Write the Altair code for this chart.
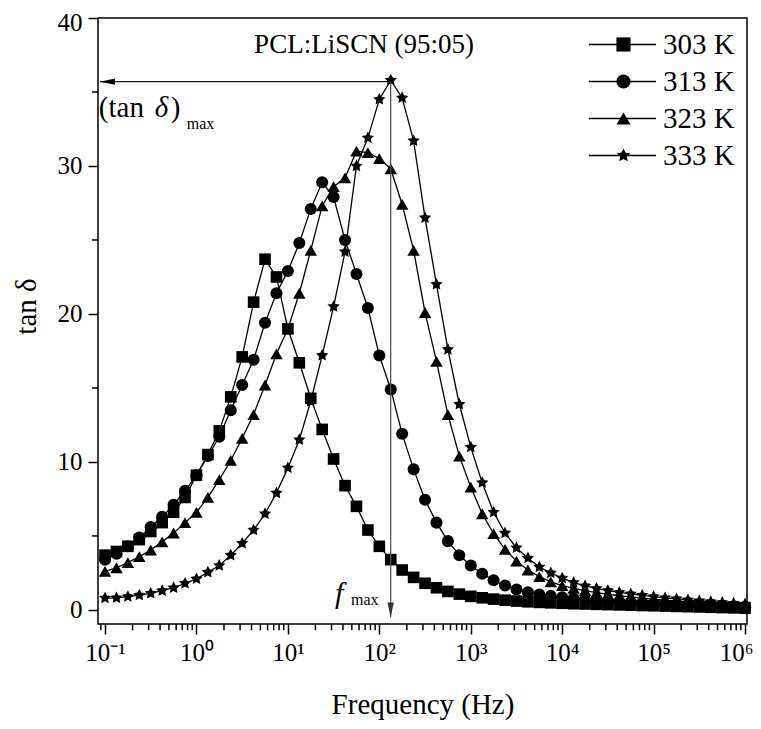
import altair as alt
import pandas as pd

# ---------------- data ----------------
FREQ_HZ = [0.1, 0.1334, 0.1778, 0.2371, 0.3162, 0.4217, 0.5623, 0.7499,
           1, 1.334, 1.778, 2.371, 3.162, 4.217, 5.623, 7.499,
           10, 13.34, 17.78, 23.71, 31.62, 42.17, 56.23, 74.99,
           100, 133.4, 177.8, 237.1, 316.2, 421.7, 562.3, 749.9,
           1000, 1334, 1778, 2371, 3162, 4217, 5623, 7499,
           10000, 13340, 17780, 23710, 31620, 42170, 56230, 74990,
           100000, 133400, 177800, 237100, 316200, 421700, 562300, 749900,
           1000000]

TEMPS = ["303 K", "313 K", "323 K", "333 K"]

TAN_303 = [3.7, 3.95, 4.3, 4.75, 5.3, 5.9, 6.6, 7.6,
           9.1, 10.5, 12.1, 14.4, 17.1, 20.8, 23.7, 22.5,
           19.0, 16.7, 14.3, 12.2, 10.2, 8.4, 7.0, 5.4,
           4.3, 3.4, 2.7, 2.2, 1.8, 1.5, 1.25, 1.07,
           0.92, 0.82, 0.73, 0.66, 0.6, 0.55, 0.51, 0.48,
           0.45, 0.42, 0.4, 0.38, 0.36, 0.34, 0.32, 0.3,
           0.28, 0.26, 0.24, 0.22, 0.2, 0.18, 0.16, 0.14,
           0.12]

TAN_313 = [3.4, 3.8, 4.3, 4.9, 5.6, 6.3, 7.1, 8.05,
           9.1, 10.4, 11.7, 13.5, 15.2, 16.9, 19.4, 21.4,
           22.9, 24.8, 27.1, 28.9, 27.9, 25.0, 22.7, 20.4,
           17.2, 14.9, 11.9, 9.5, 7.45, 5.9, 4.65, 3.7,
           3.0, 2.45, 2.0, 1.65, 1.38, 1.2, 1.05, 0.95,
           0.86, 0.78, 0.71, 0.65, 0.6, 0.55, 0.5, 0.46,
           0.42, 0.39, 0.36, 0.33, 0.3, 0.27, 0.24, 0.21,
           0.18]

TAN_323 = [2.6, 2.85, 3.2, 3.6, 4.05, 4.6, 5.2, 5.9,
           6.6, 7.6, 8.8, 10.1, 11.6, 13.2, 15.2, 17.3,
           19.0, 21.4, 24.3, 27.3, 28.6, 29.2, 31.0, 30.9,
           30.5, 29.8, 27.4, 24.3, 20.1, 16.8, 13.2, 10.4,
           8.3, 6.5, 5.15, 4.1, 3.3, 2.7, 2.25, 1.9,
           1.65, 1.45, 1.3, 1.17, 1.06, 0.96, 0.88, 0.8,
           0.73, 0.66, 0.6, 0.54, 0.48, 0.43, 0.38, 0.34,
           0.3]

TAN_333 = [0.8, 0.82, 0.9, 1.0, 1.12, 1.3, 1.5, 1.8,
           2.1, 2.55, 3.0, 3.7, 4.5, 5.4, 6.5, 7.9,
           9.6, 11.5, 14.1, 17.2, 20.5, 24.2, 30.0, 31.9,
           34.5, 35.8, 34.6, 31.7, 26.5, 22.0, 17.6, 13.9,
           11.0, 8.6, 6.6, 5.2, 4.2, 3.5, 2.9, 2.5,
           2.15, 1.85, 1.62, 1.45, 1.3, 1.18, 1.08, 0.99,
           0.9, 0.82, 0.75, 0.68, 0.62, 0.56, 0.5, 0.45,
           0.4]

SERIES = [TAN_303, TAN_313, TAN_323, TAN_333]

# annotation values (data units)
FMAX_HZ = 133.0
TAN_MAX = 35.7
ARROW_LEFT_END_HZ = 0.0881
ARROW_LEFT_HEAD_HZ = 0.1065
ARROW_DOWN_END = -0.5
ARROW_DOWN_HEAD = 0.0
TITLE_TEXT = "PCL:LiSCN (95:05)"
TITLE_POS = (68.0, 37.66)
TANMAX_POS = (0.0855, 33.3)
FMAX_POS = (32.8, 0.45)

X_DOMAIN = [0.0838, 1.05e6]
Y_DOMAIN = [-0.95, 40]
X_MAJOR = [0.1, 1, 10, 100, 1000, 10000, 100000, 1000000]
X_EXPONENTS = ["\u207b\u00b9", "\u2070", "\u00b9", "\u00b2", "\u00b3", "\u2074", "\u2075", "\u2076"]
Y_MAJOR = [0, 10, 20, 30, 40]
Y_MINOR = [5, 15, 25, 35]
X_MINOR = [0.09] + [m * 10.0 ** k for k in range(-1, 6) for m in range(2, 10)]

STAR = ("M0,-1L0.294,-0.405L0.951,-0.309L0.476,0.155L0.588,0.809L0,0.5"
        "L-0.588,0.809L-0.476,0.155L-0.951,-0.309L-0.294,-0.405Z")
SHAPES = ["square", "circle", "triangle-up", STAR]
SIZES = [135, 165, 215, 560]
FONT = "Liberation Serif"

# ---------------- tables ----------------
rows = []
for t, vals in zip(TEMPS, SERIES):
    for f, v in zip(FREQ_HZ, vals):
        rows.append({"f": f, "v": v, "temp": t, "series": t})
df = pd.DataFrame(rows)

LOG_EXPR = "round(log(datum.value)/LN10)"
label_parts = " : ".join(
    f"{LOG_EXPR} == {e} ? '10{s}'" for e, s in zip(range(-1, 7), X_EXPONENTS)
)
x_label_expr = label_parts + " : ''"
LAST_TEST = "datum.value >= 999999"
TOP_TEST = "datum.value >= 40"

XSCALE = alt.Scale(type="log", domain=X_DOMAIN, nice=False)
YSCALE = alt.Scale(domain=Y_DOMAIN, nice=False, zero=False)

X_AXIS = alt.Axis(
    values=X_MAJOR, labelExpr=x_label_expr, labelOverlap=False, labelFlush=False,
    labelAlign={"condition": {"test": LAST_TEST, "value": "right"}, "value": "center"},
    labelOffset={"condition": {"test": LAST_TEST, "value": 8}, "value": 0},
    tickSize=10, tickColor="black", tickWidth=1.5, domain=False, grid=False,
    labelFont=FONT, labelFontSize=25, labelColor="black", labelPadding=6,
    title="Frequency (Hz)", titleFont=FONT, titleFontSize=29, titleFontWeight="normal",
    titleColor="black", titlePadding=25,
)
Y_AXIS = alt.Axis(
    values=Y_MAJOR, labelOverlap=False, labelFlush=False,
    labelOffset={"condition": {"test": TOP_TEST, "value": 4}, "value": 0},
    tickSize=10, tickColor="black", tickWidth=1.5, domain=False, grid=False,
    labelFont=FONT, labelFontSize=25, labelColor="black", labelPadding=6,
    title="tan \u03b4", titleFont=FONT, titleFontSize=29, titleFontWeight="normal",
    titleColor="black", titlePadding=16, titleY=288,
)


def X(field):
    return alt.X(field, type="quantitative", scale=XSCALE, axis=X_AXIS)


def Y(field):
    return alt.Y(field, type="quantitative", scale=YSCALE, axis=Y_AXIS)


LEG_X, LEG_Y, ROW_PAD, LEG_FONT = 510, 12, 7, 29

base = alt.Chart(df)

lines = base.mark_line(strokeWidth=1.3).encode(
    x=X("f"),
    y=Y("v"),
    color=alt.Color("series:N", scale=alt.Scale(domain=TEMPS, range=["black"] * 4),
                    legend=alt.Legend(title=None, orient="none", legendX=LEG_X, legendY=LEG_Y,
                                      symbolType="M-5,0L5,0", symbolSize=180,
                                      symbolStrokeWidth=1.5, labelFontSize=LEG_FONT,
                                      labelFont=FONT, labelExpr="''", rowPadding=ROW_PAD,
                                      padding=0, zindex=1)),
)

points = base.mark_point(filled=True, opacity=1, color="black").encode(
    x=X("f"),
    y=Y("v"),
    shape=alt.Shape("temp:N", scale=alt.Scale(domain=TEMPS, range=SHAPES),
                    legend=alt.Legend(title=None, orient="none", legendX=LEG_X + 1,
                                      legendY=LEG_Y, symbolSize=200,
                                      symbolFillColor="black", symbolStrokeColor="black",
                                      labelFontSize=LEG_FONT, labelFont=FONT,
                                      labelColor="black", labelOffset=25,
                                      rowPadding=ROW_PAD, padding=0, zindex=2)),
    size=alt.Size("temp:N", scale=alt.Scale(domain=TEMPS, range=SIZES), legend=None),
)

# minor ticks outside the frame, drawn through the scales
xminor = pd.DataFrame({"f": X_MINOR, "y0": [Y_DOMAIN[0]] * len(X_MINOR),
                       "y1": [Y_DOMAIN[0] - 0.42] * len(X_MINOR)})
x_minor_ticks = alt.Chart(xminor).mark_rule(color="black", strokeWidth=1.5).encode(
    x=X("f"), y=Y("y0"), y2="y1")
yminor = pd.DataFrame({"v": Y_MINOR, "x0": [X_DOMAIN[0]] * len(Y_MINOR),
                       "x1": [X_DOMAIN[0] * 0.86] * len(Y_MINOR)})
y_minor_ticks = alt.Chart(yminor).mark_rule(color="black", strokeWidth=1.5).encode(
    y=Y("v"), x=X("x0"), x2="x1")

ann = pd.DataFrame({
    "fa": [ARROW_LEFT_END_HZ], "fb": [FMAX_HZ], "ya": [TAN_MAX], "yb": [ARROW_DOWN_END],
    "fh": [ARROW_LEFT_HEAD_HZ], "yh": [ARROW_DOWN_HEAD],
})
a = alt.Chart(ann)
h_rule = a.mark_rule(color="#1a1a1a", strokeWidth=1.2).encode(x=X("fa"), x2="fb", y=Y("ya"))
v_rule = a.mark_rule(color="#555555", strokeWidth=1.3).encode(x=X("fb"), y=Y("ya"), y2="yb")
left_head = a.mark_point(shape="M-1,0L1,-0.42L1,0.42Z", filled=True, opacity=1,
                         color="black", size=225).encode(x=X("fh"), y=Y("ya"))
down_head = a.mark_point(shape="M0,1L-0.42,-1L0.42,-1Z", filled=True, opacity=1,
                         color="#333333", size=225).encode(x=X("fb"), y=Y("yh"))

txt = pd.DataFrame({
    "tx": [TITLE_POS[0]], "ty": [TITLE_POS[1]],
    "mx": [TANMAX_POS[0]], "my": [TANMAX_POS[1]],
    "fx": [FMAX_POS[0]], "fy": [FMAX_POS[1]],
})
t = alt.Chart(txt)


def label(xf, yf, text, size, dx=0, dy=0, style="normal", align="left"):
    return t.mark_text(text=text, font=FONT, fontSize=size, fontStyle=style,
                       align=align, baseline="alphabetic", dx=dx, dy=dy,
                       color="black").encode(x=X(xf), y=Y(yf))


texts = [
    label("tx", "ty", TITLE_TEXT, 27, align="center"),
    label("mx", "my", "(tan", 29),
    label("mx", "my", "\u03b4", 29, dx=56, style="italic"),
    label("mx", "my", ")", 29, dx=72),
    label("mx", "my", "max", 16, dx=88, dy=12),
    label("fx", "fy", "f", 30, style="italic"),
    label("fx", "fy", "max", 16, dx=16, dy=2),
]

chart = alt.layer(lines, points, x_minor_ticks, y_minor_ticks, h_rule, v_rule,
                  left_head, down_head, *texts).resolve_scale(
    color="independent", shape="independent"
).properties(
    width=649, height=606,
    autosize=alt.AutoSizeParams(type="none"),
    padding={"left": 90, "top": 10, "right": 6, "bottom": 100},
    background="white",
).configure_view(stroke="black", strokeWidth=1.5)

chart.save("out.html", embed_options={"renderer": "svg", "actions": False})
